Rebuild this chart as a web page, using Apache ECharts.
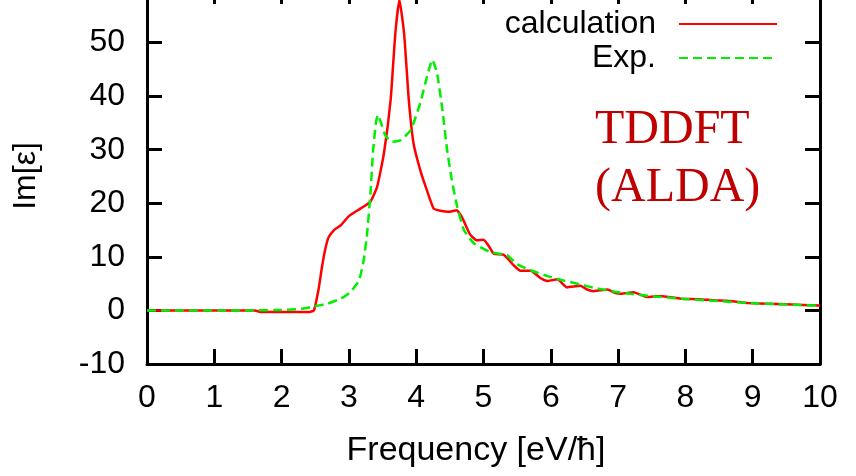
<!DOCTYPE html>
<html>
<head>
<meta charset="utf-8">
<script src="https://cdn.jsdelivr.net/npm/echarts@6/dist/echarts.min.js"></script>
<style>
html,body{margin:0;padding:0;background:#fff;}
#chart{width:856px;height:476px;}
</style>
</head>
<body>
<div id="chart"></div>
<script>
// Frequency [eV/ħ] vs Im[ε]
const calcX = [0, 1.0, 1.6, 1.7, 2.4, 2.48, 2.55, 2.6, 2.65, 2.7, 2.78, 2.88, 3.0, 3.17, 3.32, 3.42, 3.52, 3.62, 3.69, 3.75, 3.82, 3.89, 3.96, 4.06, 4.16, 4.26, 4.36, 4.48, 4.6, 4.68, 4.8, 4.9, 5.0, 5.08, 5.15, 5.3, 5.45, 5.55, 5.7, 5.85, 5.95, 6.1, 6.24, 6.44, 6.54, 6.64, 6.84, 6.95, 7.04, 7.23, 7.43, 7.63, 7.93, 8.2, 8.42, 8.7, 8.92, 9.5, 10];
const calcY = [0, 0, 0, -0.3, -0.3, 0, 4, 8.1, 11.5, 13.7, 15.0, 15.9, 17.6, 19.0, 20.3, 23.1, 29.3, 39.3, 51.7, 58, 51.7, 39.3, 31.2, 26.2, 22.4, 19.0, 18.6, 18.4, 18.7, 17.4, 14.2, 13.1, 13.2, 12.0, 10.6, 10.4, 8.4, 7.4, 7.4, 6.0, 5.5, 5.8, 4.3, 4.6, 3.9, 3.6, 3.9, 3.3, 3.1, 3.4, 2.5, 2.7, 2.2, 2.1, 1.9, 1.7, 1.4, 1.15, 0.9];
const expX = [0, 1.5, 2.0, 2.3, 2.48, 2.68, 2.88, 3.02, 3.15, 3.22, 3.27, 3.32, 3.36, 3.40, 3.43, 3.48, 3.54, 3.64, 3.77, 3.92, 4.06, 4.16, 4.24, 4.31, 4.39, 4.46, 4.53, 4.61, 4.71, 4.86, 5.1, 5.35, 5.5, 5.7, 5.95, 6.19, 6.45, 6.69, 6.95, 7.18, 7.55, 7.93, 8.42, 8.92, 9.5, 10];
const expY = [0, 0, 0.1, 0.3, 0.75, 1.25, 2.2, 3.4, 5.6, 9.4, 14.3, 21.8, 29.9, 34.9, 36.5, 34.9, 32.7, 31.5, 31.8, 33.7, 38.7, 43.6, 46.8, 44.3, 37.4, 29.9, 24.3, 19.3, 15.0, 12.5, 10.9, 10.3, 8.6, 7.5, 6.4, 5.6, 4.8, 4.1, 3.5, 3.1, 2.6, 2.2, 1.8, 1.4, 1.1, 0.9];
const seriesNames = ['calculation', 'Exp.'];
const xTicks = [0, 1, 2, 3, 4, 5, 6, 7, 8, 9, 10];
const yRange = [-10, 60];
const axisNames = ['Frequency [eV/ħ]', 'Im[ε]'];
const annotationLines = ['TDDFT', '(ALDA)'];

const zip = (xs, ys) => xs.map((x, i) => [x, ys[i]]);
const SANS = 'Liberation Sans, Arial, sans-serif';
const mkLine = () => ({ show: true, onZero: false, lineStyle: { color: '#000', width: 3 } });
const mkTick = () => ({ show: true, inside: true, length: 15, lineStyle: { color: '#000', width: 3 } });

const chart = echarts.init(document.getElementById('chart'));
chart.setOption({
  animation: false,
  grid: { left: 147, right: 36, top: -11, bottom: 112, outerBoundsMode: 'none' },
  xAxis: [
    {
      type: 'value', min: xTicks[0], max: xTicks[xTicks.length - 1], interval: 1, position: 'bottom',
      axisLine: mkLine(), axisTick: mkTick(), splitLine: { show: false },
      axisLabel: { fontFamily: SANS, fontSize: 32, color: '#000', margin: 18 }
    },
    {
      type: 'value', min: xTicks[0], max: xTicks[xTicks.length - 1], interval: 1, position: 'top',
      axisLine: mkLine(), axisTick: mkTick(), splitLine: { show: false }, axisLabel: { show: false }
    }
  ],
  yAxis: [
    {
      type: 'value', min: yRange[0], max: yRange[1], interval: 10, position: 'left',
      axisLine: mkLine(), axisTick: mkTick(), splitLine: { show: false },
      axisLabel: { fontFamily: SANS, fontSize: 32, color: '#000', margin: 22 }
    },
    {
      type: 'value', min: yRange[0], max: yRange[1], interval: 10, position: 'right',
      axisLine: mkLine(), axisTick: mkTick(), splitLine: { show: false }, axisLabel: { show: false }
    }
  ],
  legend: {
    orient: 'vertical', right: 78, top: 8, align: 'right', padding: 0,
    itemWidth: 98, itemHeight: 2, itemGap: 2,
    textStyle: { fontFamily: SANS, fontSize: 32, color: '#000', lineHeight: 32, padding: [0, 18, 0, 0] },
    data: seriesNames
  },
  series: [
    {
      name: seriesNames[0], type: 'line', data: zip(calcX, calcY), symbol: 'none', smooth: 0.15,
      lineStyle: { color: '#ff0000', width: 2.5 }, itemStyle: { color: '#ff0000' }
    },
    {
      name: seriesNames[1], type: 'line', data: zip(expX, expY), symbol: 'none', smooth: 0.15,
      lineStyle: { color: '#00ee00', width: 2.5, type: [9, 5] }, itemStyle: { color: '#00ee00' }
    }
  ],
  graphic: [
    { type: 'text', x: 476, y: 451, style: { text: axisNames[0], font: '34px "Liberation Sans", Arial, sans-serif', fill: '#000', align: 'center', verticalAlign: 'middle' } },
    { type: 'text', x: 26, y: 176, rotation: Math.PI / 2, style: { text: axisNames[1], font: '32px "Liberation Sans", Arial, sans-serif', fill: '#000', align: 'center', verticalAlign: 'middle' } },
    { type: 'text', left: 595, top: 106, style: { text: annotationLines[0], font: '48px "Liberation Serif", "Times New Roman", serif', fill: '#c00000' } },
    { type: 'text', left: 595, top: 164, style: { text: annotationLines[1], font: '48px "Liberation Serif", "Times New Roman", serif', fill: '#c00000' } }
  ]
});
</script>
</body>
</html>
